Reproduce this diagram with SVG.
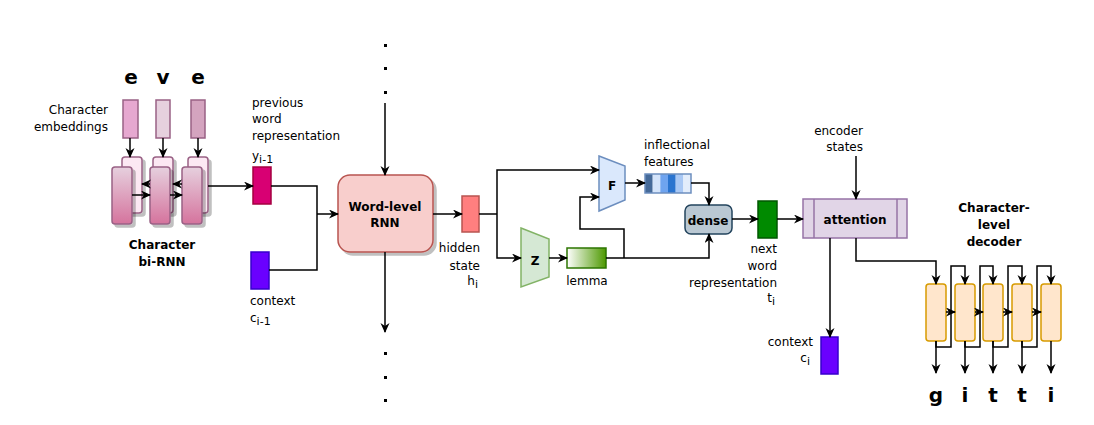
<svg xmlns="http://www.w3.org/2000/svg" width="1094" height="425" viewBox="0 0 1094 425">
<style>
text{font-family:"DejaVu Sans","Liberation Sans",sans-serif;font-size:12px;fill:#000}
.b{font-weight:bold}
.big{font-size:20px;font-weight:bold}
.ln{fill:none;stroke:#000;stroke-width:1.5}
.ar{fill:none;stroke:#000;stroke-width:1.5;marker-end:url(#ah)}
.emb{stroke:#996185;stroke-width:1.5}
.back{fill:#fce8f3;stroke:#996185;stroke-width:1.5}
.front{fill:url(#gp);stroke:#996185;stroke-width:1.5}
.dec{fill:#ffe6cc;stroke:#d79b00;stroke-width:1.5}
.dot{fill:#000}
</style>
<defs>
<marker id="ah" markerWidth="10" markerHeight="10" refX="9" refY="4.5" orient="auto" markerUnits="userSpaceOnUse">
<path d="M0,0 L10,4.5 L0,9 L3,4.5 z" fill="#000"/>
</marker>
<linearGradient id="gp" x1="0" y1="0" x2="0" y2="1">
<stop offset="0" stop-color="#e6d0de"/><stop offset="1" stop-color="#d5739d"/>
</linearGradient>
<linearGradient id="gg" x1="0" y1="0" x2="1" y2="0">
<stop offset="0" stop-color="#ffffff"/><stop offset="1" stop-color="#4d9900"/>
</linearGradient>
<filter id="sh" x="-20%" y="-20%" width="150%" height="150%">
<feGaussianBlur in="SourceAlpha" stdDeviation="0.6"/>
<feOffset dx="3" dy="3" result="o"/>
<feComponentTransfer><feFuncA type="linear" slope="0.25"/></feComponentTransfer>
<feMerge><feMergeNode/><feMergeNode in="SourceGraphic"/></feMerge>
</filter>
</defs>

<!-- Character embeddings -->
<g id="char-letters">
<text class="big" x="131" y="84" text-anchor="middle">e</text>
<text class="big" x="163" y="84" text-anchor="middle">v</text>
<text class="big" x="198" y="84" text-anchor="middle">e</text>
</g>
<g id="char-embeddings-label">
<text x="108" y="114" text-anchor="end">Character</text>
<text x="108" y="131" text-anchor="end">embeddings</text>
</g>
<g id="emb1"><rect class="emb" x="123" y="100" width="15" height="38" fill="#e6a8d0"/></g>
<g id="emb2"><rect class="emb" x="156" y="100" width="14" height="38" fill="#e6d0de"/></g>
<g id="emb3"><rect class="emb" x="191" y="100" width="14" height="38" fill="#d4a4bf"/></g>

<!-- bi-RNN cells -->
<g id="birnn-back" filter="url(#sh)">
<rect class="back" x="122" y="157" width="20" height="56" rx="3"/>
<rect class="back" x="153" y="157" width="20" height="56" rx="3"/>
<rect class="back" x="188" y="157" width="20" height="56" rx="3"/>
</g>
<g id="birnn-front" filter="url(#sh)">
<rect class="front" x="112" y="167" width="20" height="57" rx="3"/>
<rect class="front" x="150" y="167" width="20" height="57" rx="3"/>
<rect class="front" x="182" y="167" width="20" height="57" rx="3"/>
</g>
<g id="birnn-label">
<text class="b" x="162" y="249" text-anchor="middle">Character</text>
<text class="b" x="162" y="266" text-anchor="middle">bi-RNN</text>
</g>

<!-- previous word rep -->
<g id="prev-word">
<rect x="253" y="167" width="18" height="37" fill="#d80073" stroke="#a50040" stroke-width="1.5"/>
<text x="252" y="107">previous</text>
<text x="252" y="123">word</text>
<text x="252" y="140">representation</text>
<text x="252" y="160">y<tspan font-size="11" dy="3">i-1</tspan></text>
</g>
<g id="context-prev">
<rect x="251" y="252" width="18" height="37" fill="#6a00ff" stroke="#3700cc" stroke-width="1.5"/>
<text x="250" y="305">context</text>
<text x="250" y="322">c<tspan font-size="11" dy="3">i-1</tspan></text>
</g>

<!-- Word-level RNN -->
<g id="word-rnn">
<rect x="338" y="175" width="95" height="77" rx="12" fill="#f8cecc" stroke="#b85450" stroke-width="1.5" filter="url(#sh)"/>
<text class="b" x="385" y="211" text-anchor="middle">Word-level</text>
<text class="b" x="385" y="227" text-anchor="middle">RNN</text>
</g>
<g id="dots">
<rect class="dot" x="384" y="44" width="3" height="3"/>
<rect class="dot" x="384" y="67" width="3" height="3"/>
<rect class="dot" x="384" y="91" width="3" height="3"/>
<rect class="dot" x="384" y="352" width="3" height="3"/>
<rect class="dot" x="384" y="376" width="3" height="3"/>
<rect class="dot" x="384" y="399" width="3" height="3"/>
</g>

<!-- hidden state -->
<g id="hidden-state">
<rect x="462" y="196" width="17" height="36" fill="#ff7f7f" stroke="#b85450" stroke-width="1.5"/>
<text x="480" y="252" text-anchor="end">hidden</text>
<text x="480" y="270" text-anchor="end">state</text>
<text x="478" y="285" text-anchor="end">h<tspan font-size="11" dy="3">i</tspan></text>
</g>

<!-- F -->
<g id="F">
<path d="M599,156 L625,166 L625,200 L599,211 z" fill="#dae8fc" stroke="#6c8ebf" stroke-width="1.5"/>
<text class="b" x="612" y="190" text-anchor="middle" font-size="13">F</text>
</g>
<!-- Z -->
<g id="Z">
<path d="M521,228 L549,239 L549,277 L521,287 z" fill="#d5e8d4" stroke="#82b366" stroke-width="1.5"/>
<text class="b" x="535" y="265" text-anchor="middle" font-size="14">Z</text>
</g>
<!-- lemma -->
<g id="lemma">
<rect x="567" y="248" width="39" height="20" fill="url(#gg)" stroke="#2d7600" stroke-width="1.5"/>
<text x="587" y="285" text-anchor="middle">lemma</text>
</g>
<!-- inflectional features -->
<g id="features">
<text x="644" y="149">inflectional</text>
<text x="644" y="166">features</text>
<rect x="645" y="174" width="7.7" height="19" fill="#456a99"/>
<rect x="652.7" y="174" width="7.7" height="19" fill="#d4e4fa"/>
<rect x="660.3" y="174" width="7.7" height="19" fill="#6fa4ef"/>
<rect x="668" y="174" width="7.7" height="19" fill="#2a74cf"/>
<rect x="675.7" y="174" width="7.7" height="19" fill="#a9c8f4"/>
<rect x="683.3" y="174" width="7.7" height="19" fill="#e3edfb"/>
<rect x="645" y="174" width="46" height="19" fill="none" stroke="#6c8ebf" stroke-width="1.5"/>
</g>
<!-- dense -->
<g id="dense">
<rect x="685" y="205" width="47" height="29" rx="6" fill="#bac8d3" stroke="#23445d" stroke-width="1.5"/>
<text class="b" x="708" y="225" text-anchor="middle" font-size="13">dense</text>
</g>
<!-- next word rep -->
<g id="next-word">
<rect x="758" y="201" width="19" height="37" fill="#008a00" stroke="#005700" stroke-width="1.5"/>
<text x="777" y="253" text-anchor="end">next</text>
<text x="777" y="270" text-anchor="end">word</text>
<text x="777" y="287" text-anchor="end">representation</text>
<text x="775" y="302" text-anchor="end">t<tspan font-size="11" dy="3">i</tspan></text>
</g>
<!-- attention -->
<g id="attention">
<rect x="803" y="199" width="104" height="39" fill="#e1d5e7" stroke="#9673a6" stroke-width="1.5"/>
<line x1="814" y1="199" x2="814" y2="238" stroke="#9673a6" stroke-width="1.5"/>
<line x1="897" y1="199" x2="897" y2="238" stroke="#9673a6" stroke-width="1.5"/>
<text class="b" x="855" y="224" text-anchor="middle">attention</text>
</g>
<g id="encoder-states">
<text x="863" y="135" text-anchor="end">encoder</text>
<text x="863" y="151" text-anchor="end">states</text>
</g>
<!-- context c_i -->
<g id="context-i">
<rect x="821" y="337" width="17" height="37" fill="#6a00ff" stroke="#3700cc" stroke-width="1.5"/>
<text x="813" y="346" text-anchor="end">context</text>
<text x="810" y="362" text-anchor="end">c<tspan font-size="11" dy="3">i</tspan></text>
</g>

<!-- decoder -->
<g id="decoder-label">
<text class="b" x="994" y="212" text-anchor="middle">Character-</text>
<text class="b" x="994" y="229" text-anchor="middle">level</text>
<text class="b" x="994" y="246" text-anchor="middle">decoder</text>
</g>
<g id="decoder-cells">
<rect class="dec" x="926" y="284" width="20" height="57" rx="3"/>
<rect class="dec" x="955" y="284" width="20" height="57" rx="3"/>
<rect class="dec" x="983" y="284" width="20" height="57" rx="3"/>
<rect class="dec" x="1012" y="284" width="20" height="57" rx="3"/>
<rect class="dec" x="1041" y="284" width="20" height="57" rx="3"/>
</g>
<g id="output-letters">
<text class="big" x="936" y="402" text-anchor="middle">g</text>
<text class="big" x="965" y="402" text-anchor="middle">i</text>
<text class="big" x="993" y="402" text-anchor="middle">t</text>
<text class="big" x="1022" y="402" text-anchor="middle">t</text>
<text class="big" x="1051" y="402" text-anchor="middle">i</text>
</g>

<!-- connectors -->
<g id="connectors">
<path class="ar" d="M130,138 L130,157"/>
<path class="ar" d="M163,138 L163,157"/>
<path class="ar" d="M198,138 L198,157"/>
<path class="ar" d="M132,195 L150,195"/>
<path class="ar" d="M170,195 L182,195"/>
<path class="ar" d="M150,184 L142,184"/>
<path class="ar" d="M182,184 L173,184"/>
<path class="ar" d="M208,186 L253,186"/>
<path class="ln" d="M271,186 L317,186 L317,270 L269,270"/>
<path class="ar" d="M317,214 L338,214"/>
<path class="ar" d="M385,103 L385,175"/>
<path class="ar" d="M385,252 L385,332"/>
<path class="ar" d="M433,214 L462,214"/>
<path class="ln" d="M479,214 L497,214"/>
<path class="ar" d="M497,214 L497,170 L599,170"/>
<path class="ar" d="M497,214 L497,258 L521,258"/>
<path class="ar" d="M549,258 L567,258"/>
<path class="ar" d="M606,258 L709,258 L709,234"/>
<path class="ar" d="M624,258 L624,229 L580,229 L580,197 L599,197"/>
<path class="ar" d="M625,183 L645,183"/>
<path class="ar" d="M691,183 L709,183 L709,205"/>
<path class="ar" d="M732,219 L758,219"/>
<path class="ar" d="M777,219 L803,219"/>
<path class="ar" d="M856,156 L856,199"/>
<path class="ar" d="M830,238 L830,337"/>
<path class="ar" d="M856,238 L856,261 L936,261 L936,284"/>
<path class="ar" d="M936,341 L936,347 L951,347 L951,266 L965,266 L965,284"/>
<path class="ar" d="M965,341 L965,347 L980,347 L980,266 L993,266 L993,284"/>
<path class="ar" d="M993,341 L993,347 L1008,347 L1008,266 L1022,266 L1022,284"/>
<path class="ar" d="M1022,341 L1022,347 L1037,347 L1037,266 L1051,266 L1051,284"/>
<path class="ar" d="M936,341 L936,373"/>
<path class="ar" d="M965,341 L965,373"/>
<path class="ar" d="M993,341 L993,373"/>
<path class="ar" d="M1022,341 L1022,373"/>
<path class="ar" d="M1051,341 L1051,373"/>
<path class="ar" d="M946,312 L955,312"/>
<path class="ar" d="M975,312 L983,312"/>
<path class="ar" d="M1003,312 L1012,312"/>
<path class="ar" d="M1032,312 L1041,312"/>
</g>
</svg>
